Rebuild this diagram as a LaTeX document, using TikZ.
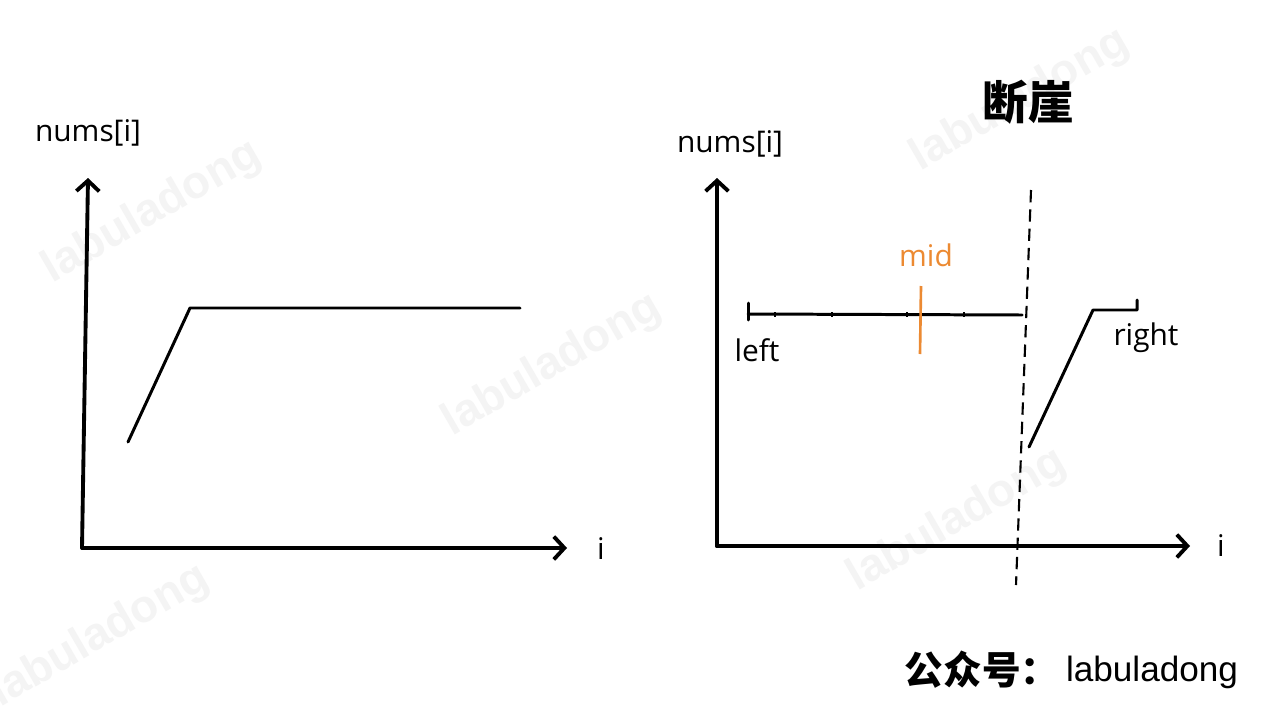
\documentclass[tikz,border=0pt]{standalone}
\usepackage{fontspec}
\setmainfont{Open Sans}
\newfontfamily\cjkfont{Noto Sans CJK SC}
\newfontfamily\arialfont{Liberation Sans}
\usetikzlibrary{arrows.meta}
\definecolor{midorange}{RGB}{236,138,50}

\begin{document}
\begin{tikzpicture}[
        x=0.02cm, y=-0.02cm,
        axis/.style={line width=2.2pt, line cap=round, -{Straight Barb[length=6pt, width=13pt]}},
        curve/.style={line width=1.7pt, line cap=round, line join=round},
        lbl/.style={font=\fontsize{17}{20}\selectfont, inner sep=0pt},
        ticksm/.style={line width=0.8pt},
        wmark/.style={text=gray!9, font=\arialfont\bfseries\fontsize{26}{30}\selectfont, rotate=30}
    ]
        \useasboundingbox[fill=white] (0,0) rectangle (1280,720);

        \node[wmark] (wm1) at (152,212) {labuladong};
        \node[wmark] (wm2) at (552,365) {labuladong};
        \node[wmark] (wm3) at (1020,100) {labuladong};
        \node[wmark] (wm4) at (957,520) {labuladong};
        \node[wmark] (wm5) at (100,636) {labuladong};

        \coordinate (lo) at (82,548);
        \coordinate (ltop) at (88,178);
        \coordinate (lend) at (567,548);
        \draw[axis] (lo) -- (ltop);
        \draw[axis] (lo) -- (lend);
        \node[lbl] (lnums) at (88,133) {nums[i]};
        \node[lbl] (li) at (601,549) {i};

        \coordinate (la) at (128,442);
        \coordinate (lb) at (190,308);
        \coordinate (lc) at (520,308);
        \draw[curve] (la) -- (lb) -- (lc);

        \coordinate (ro) at (717,546);
        \coordinate (rtop) at (717,178);
        \coordinate (rend) at (1190,546);
        \draw[axis] (ro) -- (rtop);
        \draw[axis] (ro) -- (rend);
        \node[lbl] (rnums) at (730,144) {nums[i]};
        \node[lbl] (ri) at (1221,546) {i};

        \node[font=\cjkfont\bfseries\fontsize{26}{30}\selectfont, inner sep=0pt] (title) at (1028,102) {断崖};

        \coordinate (cliffa) at (1031,190);
        \coordinate (cliffb) at (1016,585);
        \draw[line width=1.2pt, dash pattern=on 7pt off 4pt] (cliffa) -- (cliffb);

        \coordinate (sega) at (748,314);
        \coordinate (segb) at (1022,315);
        \draw[curve] (sega) -- (segb);
        \draw[curve] (748,303) -- (748,320);
        \foreach \tx in {775,832,907,964}
            \draw[ticksm] (\tx,312) -- (\tx,317);
        \node[lbl] (left) at (757,350) {left};

        \coordinate (mida) at (921,286);
        \coordinate (midb) at (920,354);
        \draw[midorange, line width=1.5pt] (mida) -- (midb);
        \node[lbl, text=midorange] (mid) at (926,255) {mid};

        \coordinate (ra) at (1029,447);
        \coordinate (rb) at (1093,310);
        \coordinate (rc) at (1137,310);
        \coordinate (rd) at (1137,300);
        \draw[curve] (ra) -- (rb) -- (rc) -- (rd);
        \node[lbl] (right) at (1146,338) {right};

        \node[font=\cjkfont\bfseries\fontsize{22}{26}\selectfont, inner sep=0pt] (gzh) at (982,670) {公众号：};
        \node[font=\arialfont\fontsize{20}{24}\selectfont, inner sep=0pt] (brand) at (1152,672) {labuladong};
    \end{tikzpicture}
\end{document}
